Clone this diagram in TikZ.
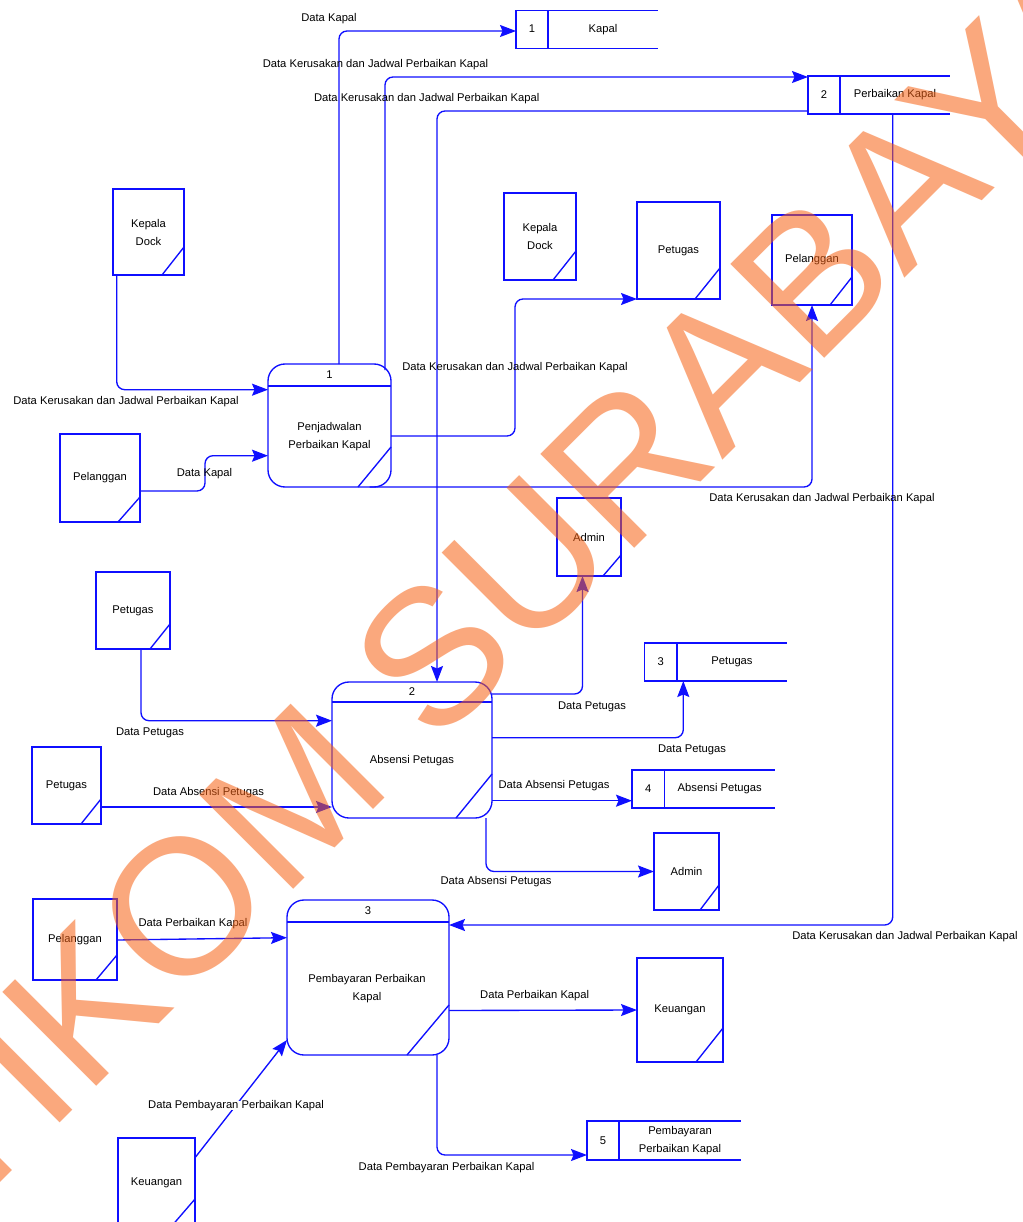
\documentclass[tikz,border=0pt]{standalone}
\usepackage{fontspec}
\setmainfont{Liberation Sans}
\usetikzlibrary{arrows.meta}
\definecolor{dfdblue}{RGB}{15,15,255}
\definecolor{wmark}{RGB}{246,97,19}
\newcommand\dfdfont{\fontsize{11.2}{18}\selectfont}
% corner fold of an external entity or process: #1 node, #2 run along bottom, #3 rise along right side
\newcommand\fold[3]{\draw[edge] ([xshift=-#2pt]#1.south east) -- ([yshift=#3pt]#1.south east);}
% data store: #1 name, #2 left, #3 top, #4 bottom, #5 divider, #6 right end, #7 number, #8 title
\newcommand\dstore[8]{%
  \node[storecell, minimum width={(#5-#2)*1pt}, minimum height={(#4-#3)*1pt}] (#1) at ({(#2+#5)/2},{(#3+#4)/2}) {#7};
  \node[storetext, minimum width={(#6-#5)*1pt}, minimum height={(#4-#3)*1pt}] (#1t) at ({(#5+#6)/2},{(#3+#4)/2}) {#8};
  \draw[edge] (#1.north east) -- (#1t.north east) (#1.south east) -- (#1t.south east);
}
\begin{document}
\begin{tikzpicture}[x=1pt,y=-1pt,
  edge/.style={draw=dfdblue, line width=1.35pt},
  flow/.style={draw=dfdblue, line width=1.35pt, rounded corners=8pt,
    -{Stealth[length=16pt,width=12pt,inset=2.5pt]}},
  entity/.style={rectangle, draw=dfdblue, line width=1.35pt, inner sep=0pt,
    outer sep=0pt, align=center, font=\dfdfont},
  process/.style={rectangle, draw=dfdblue, line width=1.35pt, rounded corners=17pt,
    inner sep=0pt, outer sep=0pt},
  storecell/.style={rectangle, draw=dfdblue, line width=1.35pt, inner sep=0pt,
    outer sep=0pt, font=\dfdfont, text height=8pt, text depth=1pt},
  storetext/.style={rectangle, inner sep=0pt, outer sep=0pt, align=center, font=\dfdfont},
  lbl/.style={inner sep=0pt, font=\dfdfont, text height=7.5pt, text depth=1.5pt},
]
\useasboundingbox (0,0) rectangle (1022,1222);
\fill[white] (0,0) rectangle (1022,1222);

% ---------- external entities ----------
\node[entity, minimum width=71pt, minimum height=86pt] (kd1) at (148.5,232) {Kepala\\Dock};
\node[entity, minimum width=80pt, minimum height=88pt] (pl1) at (100,478) {Pelanggan};
\node[entity, minimum width=72pt, minimum height=87pt] (kd2) at (540,236.5) {Kepala\\Dock};
\node[entity, minimum width=83pt, minimum height=97pt] (pt1) at (678.5,250.5) {Petugas};
\node[entity, minimum width=80pt, minimum height=90pt] (pl2) at (812,260) {Pelanggan};
\node[entity, minimum width=64pt, minimum height=78pt] (ad1) at (589,537) {Admin};
\node[entity, minimum width=74pt, minimum height=77pt] (pt2) at (133,610.5) {Petugas};
\node[entity, minimum width=69pt, minimum height=77pt] (pt3) at (66.5,785.5) {Petugas};
\node[entity, minimum width=65pt, minimum height=77pt] (ad2) at (686.5,871.5) {Admin};
\node[entity, minimum width=84pt, minimum height=81pt] (pl3) at (75,939.5) {Pelanggan};
\node[entity, minimum width=77pt, minimum height=90pt] (ku1) at (156.5,1183) {Keuangan};
\node[entity, minimum width=86pt, minimum height=104pt] (ku2) at (680,1010) {Keuangan};
\fold{kd1}{22}{28} \fold{pl1}{22}{25} \fold{kd2}{23}{29} \fold{pt1}{25}{31}
\fold{pl2}{22}{28} \fold{ad1}{18}{21} \fold{pt2}{20}{25} \fold{pt3}{20}{25}
\fold{ad2}{19}{25} \fold{pl3}{21}{25} \fold{ku1}{25}{29} \fold{ku2}{27}{34}

% ---------- processes ----------
\node[process, minimum width=123pt, minimum height=123pt] (p1) at (329.5,425.5) {};
\node[process, minimum width=160pt, minimum height=136pt] (p2) at (412,750) {};
\node[process, minimum width=162pt, minimum height=155pt] (p3) at (368,977.5) {};
\draw[edge] ([yshift=-22pt]p1.north west) -- ([yshift=-22pt]p1.north east);
\draw[edge] ([yshift=-20pt]p2.north west) -- ([yshift=-20pt]p2.north east);
\draw[edge] ([yshift=-22pt]p3.north west) -- ([yshift=-22pt]p3.north east);
\fold{p1}{33}{40} \fold{p2}{36}{44} \fold{p3}{42}{50}
\node[lbl] (p1n) at ([yshift=-11pt]p1.north) {1};
\node[lbl] (p2n) at ([yshift=-10pt]p2.north) {2};
\node[lbl] (p3n) at ([yshift=-11pt]p3.north) {3};
\node[storetext] (p1l) at (329.5,437) {Penjadwalan\\Perbaikan Kapal};
\node[storetext] (p2l) at (412,761) {Absensi Petugas};
\node[storetext] (p3l) at (367,989) {Pembayaran Perbaikan\\Kapal};

% ---------- data stores ----------
\dstore{s1}{516}{10.5}{48.5}{548}{658}{1}{Kapal}
\dstore{s2}{808}{76}{114}{840}{950}{2}{Perbaikan Kapal}
\dstore{s3}{644.5}{643}{681}{677}{787}{3}{Petugas}
\dstore{s4}{632}{770}{808}{664.5}{775}{4}{Absensi Petugas}
\dstore{s5}{587}{1121}{1160}{619}{741}{5}{Pembayaran\\Perbaikan Kapal}

% ---------- data flows ----------
\draw[flow] ([xshift=9.5pt]p1.north) |- ([yshift=-1.5pt]s1.west);
\draw[flow] ([xshift=55.5pt,yshift=-6pt]p1.north) |- ([yshift=18pt]s2.west);
\draw[flow] ([yshift=-16pt]s2.west) -| ([xshift=25pt]p2.north);
\draw[flow] ([xshift=-2.3pt]s2t.south) |- ([yshift=52.5pt]p3.east);
\draw[flow] ([xshift=-31.8pt]kd1.south) |- ([yshift=35.8pt]p1.west);
\draw[flow] ([yshift=-13pt]pl1.east) -- ++(65,0) |- ([yshift=-30.2pt]p1.west);
\draw[flow] ([yshift=-10.5pt]p1.east) -- ++(124,0) |- (pt1.south west);
\draw[flow] ([xshift=40pt]p1.south) -| (pl2.south);
\draw[flow] ([yshift=56pt]p2.east) -| ([xshift=-6.5pt]ad1.south);
\draw[flow] ([yshift=12.3pt]p2.east) -| ([xshift=6.3pt]s3.south east);
\draw[flow] ([yshift=-50.7pt]p2.east) -- ([yshift=-11.7pt]s4.west);
\draw[flow] ([xshift=74pt]p2.south) |- (ad2.west);
\draw[flow] ([xshift=8pt]pt2.south) |- ([yshift=29.3pt]p2.west);
\draw[flow] ([yshift=-21.5pt]pt3.east) -- ([yshift=-57pt]p2.west);
\draw[flow] ([yshift=-0.5pt]pl3.east) -- ([yshift=39.8pt]p3.west);
\draw[flow] ([yshift=-19.7pt]ku1.north east) -- ([yshift=15pt]p3.south west);
\draw[flow] ([yshift=-33pt]p3.east) -- (ku2.west);
\draw[flow] ([xshift=69pt]p3.south) |- ([yshift=-14.5pt]s5.west);

% ---------- flow labels ----------
\node[lbl] (l1) at (329,18.5) {Data Kapal};
\node[lbl] (l2) at (375.5,64.5) {Data Kerusakan dan Jadwal Perbaikan Kapal};
\node[lbl] (l3) at (426.7,98.5) {Data Kerusakan dan Jadwal Perbaikan Kapal};
\node[lbl] (l4) at (905,936.5) {Data Kerusakan dan Jadwal Perbaikan Kapal};
\node[lbl] (l5) at (126,401.5) {Data Kerusakan dan Jadwal Perbaikan Kapal};
\node[lbl] (l6) at (204.5,473.5) {Data Kapal};
\node[lbl] (l7) at (515,367.5) {Data Kerusakan dan Jadwal Perbaikan Kapal};
\node[lbl] (l8) at (822,498.5) {Data Kerusakan dan Jadwal Perbaikan Kapal};
\node[lbl] (l9) at (592,706) {Data Petugas};
\node[lbl] (l10) at (692,749.5) {Data Petugas};
\node[lbl] (l11) at (554,785.5) {Data Absensi Petugas};
\node[lbl] (l12) at (496,881.5) {Data Absensi Petugas};
\node[lbl] (l13) at (150,732.5) {Data Petugas};
\node[lbl] (l14) at (208.5,792.5) {Data Absensi Petugas};
\node[lbl] (l15) at (193,923.5) {Data Perbaikan Kapal};
\node[lbl, fill=white, inner xsep=2pt] (l16) at (236,1105.5) {Data Pembayaran Perbaikan Kapal};
\node[lbl] (l17) at (534.7,995.5) {Data Perbaikan Kapal};
\node[lbl] (l18) at (446.5,1167.5) {Data Pembayaran Perbaikan Kapal};

% ---------- watermark ----------
\node[rotate=45, anchor=base west, inner sep=0pt, text=wmark, opacity=0.55, text opacity=0.55,
  font=\fontsize{193}{193}\selectfont] (wm) at (-127,1310) {STIKOM SURABAYA};
\end{tikzpicture}
\end{document}
